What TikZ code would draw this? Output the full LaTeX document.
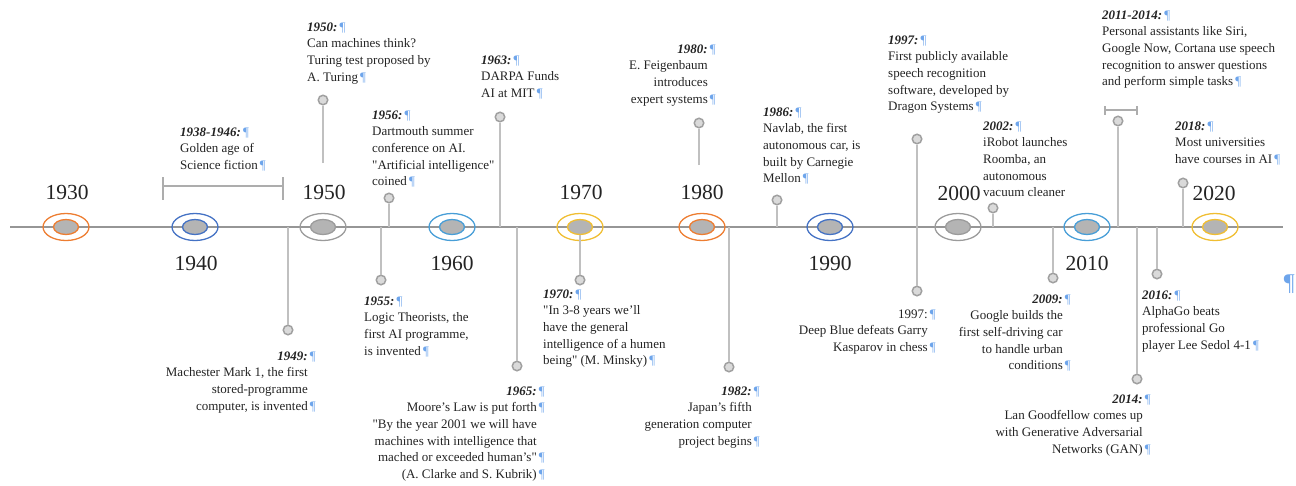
\documentclass[tikz,border=0pt]{standalone}
\usepackage{fontspec}
\setmainfont{Liberation Serif}
\usetikzlibrary{shapes.geometric}

\definecolor{axisgrey}{RGB}{150,150,150}
\definecolor{stemgrey}{RGB}{192,192,192}
\definecolor{dotgrey}{RGB}{160,160,160}
\definecolor{dotfill}{RGB}{218,218,218}
\definecolor{coregrey}{RGB}{180,180,180}
\definecolor{cOrange}{RGB}{237,125,49}
\definecolor{cBlue}{RGB}{68,114,196}
\definecolor{cGrey}{RGB}{155,155,155}
\definecolor{cSky}{RGB}{72,158,215}
\definecolor{cGold}{RGB}{240,190,50}
\definecolor{pilc}{RGB}{110,165,235}
\definecolor{ink}{RGB}{35,35,35}

% paragraph mark hanging after a line
\newcommand{\pmark}{\rlap{\,\textcolor{pilc}{¶}}}
\newcommand{\yr}[1]{\textbf{\textit{#1}}}
\newcommand{\dq}{\textquotedbl}

\tikzset{
  axisline/.style={draw=axisgrey, line width=2.6pt},
  stem/.style={draw=stemgrey, line width=1.7pt},
  bracket/.style={draw=stemgrey!90!black, line width=1.3pt},
  ring/.style={ellipse, draw=#1, line width=1.3pt, minimum width=46pt, minimum height=27pt, inner sep=0pt},
  core/.style={ellipse, draw=#1, fill=coregrey, line width=1.3pt, minimum width=25pt, minimum height=15pt, inner sep=0pt},
  dot/.style={circle, draw=dotgrey, fill=dotfill, line width=1.5pt, minimum size=9.5pt, inner sep=0pt},
  decade/.style={font=\fontsize{21.5}{24}\selectfont, text=ink, inner sep=0pt},
  txt/.style={inner sep=0pt, font=\fontsize{13}{16.6}\selectfont, text=ink},
  txtL/.style={txt, anchor=north west, align=left},
  txtR/.style={txt, anchor=north east, align=right},
}

\begin{document}
\begin{tikzpicture}[x=1pt,y=-1pt]
\useasboundingbox (0,0) rectangle (1296,485);

% main time axis
\coordinate (axL) at (10,227);
\coordinate (axR) at (1283,227);
\draw[axisline] (axL) -- (axR);

% anchor points of the stems
\foreach \n/\x in {1956/389,1963/500,1986/777,2002/993,2011/1118,2018/1183,
                   1949/288,1955/381,1965/517,1982/729,2009/1053,2014/1137,2016/1157}
  \coordinate (a\n) at (\x,227);
\coordinate (a1950) at (323,163);
\coordinate (a1980) at (699,165);

% event markers
\node[dot] (d1950) at (323,100) {};
\node[dot] (d1956) at (389,198) {};
\node[dot] (d1963) at (500,117) {};
\node[dot] (d1980) at (699,123) {};
\node[dot] (d1986) at (777,200) {};
\node[dot] (d1997t) at (917,139) {};
\node[dot] (d1997b) at (917,291) {};
\node[dot] (d2002) at (993,208) {};
\node[dot] (d2011) at (1118,121) {};
\node[dot] (d2018) at (1183,183) {};
\node[dot] (d1949) at (288,330) {};
\node[dot] (d1955) at (381,280) {};
\node[dot] (d1965) at (517,366) {};
\node[dot] (d1970) at (580,280) {};
\node[dot] (d1982) at (729,367) {};
\node[dot] (d2009) at (1053,278) {};
\node[dot] (d2014) at (1137,379) {};
\node[dot] (d2016) at (1157,274) {};

% stems
\foreach \n in {1950,1956,1963,1980,1986,2002,2011,2018,1949,1955,1965,1982,2009,2014,2016}
  \draw[stem] (a\n) -- (d\n);
\draw[stem] (d1997t) -- (d1997b);

% decade rings
\foreach \yy/\xx/\col in {1930/66/cOrange,1940/195/cBlue,1950/323/cGrey,1960/452/cSky,
                          1970/580/cGold,1980/702/cOrange,1990/830/cBlue,2000/958/cGrey,
                          2010/1087/cSky,2020/1215/cGold}{
  \node[ring=\col] (r\yy) at (\xx,227) {};
  \node[core=\col] (k\yy) at (\xx,227) {};
}
\draw[stem] (k1970) -- (d1970);

% decade labels
\node[decade] (y1930) at (67,192) {1930};
\node[decade] (y1940) at (196,263) {1940};
\node[decade] (y1950) at (324,192) {1950};
\node[decade] (y1960) at (452,263) {1960};
\node[decade] (y1970) at (581,192) {1970};
\node[decade] (y1980) at (702,192) {1980};
\node[decade] (y1990) at (830,263) {1990};
\node[decade] (y2000) at (959,193) {2000};
\node[decade] (y2010) at (1087,263) {2010};
\node[decade] (y2020) at (1214,193) {2020};

% period brackets
\coordinate (bA1) at (163,186);
\coordinate (bA2) at (283,186);
\draw[bracket] (bA1) -- (bA2);
\draw[bracket] (bA1) ++(0,-9) -- ++(0,23);
\draw[bracket] (bA2) ++(0,-9) -- ++(0,23);
\coordinate (bB1) at (1105,110);
\coordinate (bB2) at (1137,110);
\draw[bracket] (bB1) -- (bB2);
\draw[bracket] (bB1) ++(0,-4) -- ++(0,9);
\draw[bracket] (bB2) ++(0,-4) -- ++(0,9);

% texts above the axis
\node[txtL] (t1938) at (180,127.5) {\yr{1938-1946:}\pmark\\Golden age of\\Science fiction\pmark};
\node[txtL] (t1950) at (307,22.5) {\yr{1950:}\pmark\\Can machines think?\\Turing test proposed by\\A. Turing\pmark};
\node[txtL] (t1956) at (372,110.5) {\yr{1956:}\pmark\\Dartmouth summer\\conference on AI.\\\dq Artificial intelligence\dq\\coined\pmark};
\node[txtL] (t1963) at (481,55.5) {\yr{1963:}\pmark\\DARPA Funds\\AI at MIT\pmark};
\node[txtR] (t1980) at (708,44.5) {\yr{1980:}\pmark\\E. Feigenbaum\\introduces\\expert systems\pmark};
\node[txtL] (t1986) at (763,107.5) {\yr{1986:}\pmark\\Navlab, the first\\autonomous car, is\\built by Carnegie\\Mellon\pmark};
\node[txtL] (t1997t) at (888,35.5) {\yr{1997:}\pmark\\First publicly available\\speech recognition\\software, developed by\\Dragon Systems\pmark};
\node[txtL] (t2002) at (983,121.5) {\yr{2002:}\pmark\\iRobot launches\\Roomba, an\\autonomous\\vacuum cleaner};
\node[txtL] (t2011) at (1102,10.5) {\yr{2011-2014:}\pmark\\Personal assistants like Siri,\\Google Now, Cortana use speech\\recognition to answer questions\\and perform simple tasks\pmark};
\node[txtL] (t2018) at (1175,121.5) {\yr{2018:}\pmark\\Most universities\\have courses in AI\pmark};

% texts below the axis
\node[txtR] (t1949) at (308,351.5) {\yr{1949:}\pmark\\Machester Mark 1, the first\\stored-programme\\computer, is invented\pmark};
\node[txtL] (t1955) at (364,296.5) {\yr{1955:}\pmark\\Logic Theorists, the\\first AI programme,\\is invented\pmark};
\node[txtR] (t1965) at (537,386.5) {\yr{1965:}\pmark\\Moore's Law is put forth\pmark\\\dq By the year 2001 we will have\\machines with intelligence that\\mached or exceeded human's\dq\pmark\\(A. Clarke and S. Kubrik)\pmark};
\node[txtL] (t1970) at (543,289.5) {\yr{1970:}\pmark\\\dq In 3-8 years we'll\\have the general\\intelligence of a humen\\being\dq\ (M. Minsky)\pmark};
\node[txtR] (t1982) at (752,386.5) {\yr{1982:}\pmark\\Japan's fifth\\generation computer\\project begins\pmark};
\node[txtR] (t1997b) at (928,309.5) {1997:\pmark\\Deep Blue defeats Garry\\Kasparov in chess\pmark};
\node[txtR] (t2009) at (1063,294.5) {\yr{2009:}\pmark\\Google builds the\\first self-driving car\\to handle urban\\conditions\pmark};
\node[txtR] (t2014) at (1143,394.5) {\yr{2014:}\pmark\\Lan Goodfellow comes up\\with Generative Adversarial\\Networks (GAN)\pmark};
\node[txtL] (t2016) at (1142,290.5) {\yr{2016:}\pmark\\AlphaGo beats\\professional Go\\player Lee Sedol 4-1\pmark};

% paragraph mark at the right edge
\node[anchor=east, inner sep=0pt, text=pilc, font=\fontsize{24}{26}\selectfont] (pm) at (1295,284) {¶};
\end{tikzpicture}
\end{document}
